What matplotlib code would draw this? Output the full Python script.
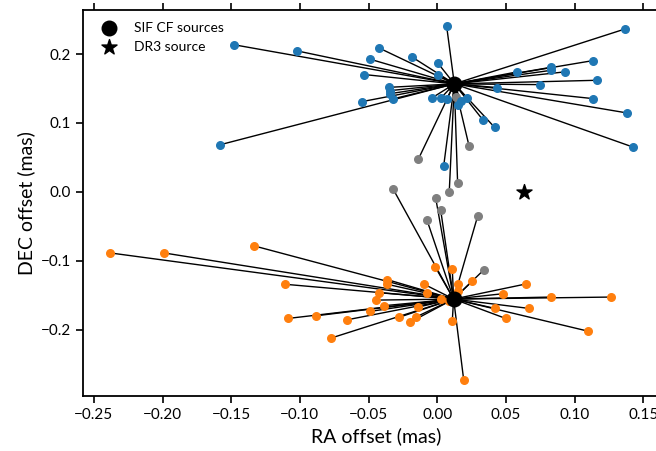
import matplotlib
matplotlib.use("Agg")
import matplotlib.pyplot as plt
import numpy as np

plt.rcParams['font.family'] = ['Lato', 'DejaVu Sans']

# centroids of the two SIF CF sources
cen_ra = [0.0124, 0.0119]
cen_dec = [0.1567, -0.1552]

# DR3 source
dr3_ra = 0.0633
dr3_dec = 0.0

# points linked to the upper centroid (blue)
blue_ra = [-0.148, -0.1023, -0.0427, -0.0182, -0.049, -0.0531, -0.0349, -0.0344,
           -0.0344, -0.0325, -0.055, -0.1582, 0.0068, 0.1364, 0.0005, 0.0005,
           0.1135, 0.0582, 0.083, 0.083, 0.0929, 0.116, 0.0747, 0.0437, 0.1135,
           0.1383, 0.1426, 0.0335, 0.0418, -0.0036, 0.0027, 0.0068, 0.0153,
           0.017, 0.0214, 0.0047]
blue_dec = [0.2134, 0.2046, 0.209, 0.1954, 0.1925, 0.1702, 0.1517, 0.1469,
            0.1425, 0.1348, 0.1309, 0.0684, 0.2404, 0.2361, 0.1866, 0.1702,
            0.1905, 0.1741, 0.1808, 0.1764, 0.1741, 0.1619, 0.1556, 0.1513, 0.1353,
            0.1145, 0.065, 0.1037, 0.0935, 0.1367, 0.1363, 0.1348, 0.1265,
            0.1324, 0.1367, 0.0383]

# points linked to the lower centroid (orange)
orange_ra = [-0.0015, 0.0109, 0.0148, 0.0148, 0.0253, 0.0643, 0.048, 0.0828,
             0.1262, 0.0418, 0.0665, 0.0498, 0.1097, 0.0109, 0.0192, 0.0025,
             0.0087, -0.0077, -0.0099, -0.014, -0.0157, -0.0201, -0.0281, -0.0386,
             -0.0448, -0.049, -0.0427, -0.0364, -0.0364, -0.2382, -0.1991, -0.1334,
             -0.1106, -0.1087, -0.0881, -0.0655, -0.0776]
orange_dec = [-0.1086, -0.111, -0.1338, -0.144, -0.1295, -0.1334, -0.1474, -0.1523,
              -0.1523, -0.1687, -0.1687, -0.1833, -0.2017, -0.1872, -0.272, -0.1546,
              -0.1585, -0.1459, -0.1334, -0.1668, -0.1814, -0.1891, -0.1818, -0.1648,
              -0.1567, -0.1731, -0.1459, -0.127, -0.1338, -0.0883, -0.0883, -0.0781,
              -0.1338, -0.1833, -0.1794, -0.1852, -0.2119]

# unassigned points (gray) and the centroid they are linked to
gray_ra = [0.0134, -0.0138, 0.0231, 0.0148, 0.0087,
           -0.0322, -0.0012, 0.0025, -0.0075, 0.0294, 0.0338]
gray_dec = [0.1372, 0.0476, 0.0669, 0.0127, 0.0,
            0.0044, -0.0083, -0.0266, -0.0407, -0.0349, -0.113]
gray_link = [0, 0, 0, 0, 0, 1, 1, 1, 1, 1, 1]

fig = plt.figure(figsize=(6.56, 4.51), dpi=100)
ax = fig.add_axes([83 / 656, 55 / 451, (670 - 83) / 656, (396 - 9.5) / 451])

for ra, dec in zip(blue_ra, blue_dec):
    ax.plot([ra, cen_ra[0]], [dec, cen_dec[0]], color='black', lw=1, zorder=1)
for ra, dec in zip(orange_ra, orange_dec):
    ax.plot([ra, cen_ra[1]], [dec, cen_dec[1]], color='black', lw=1, zorder=1)
for ra, dec, k in zip(gray_ra, gray_dec, gray_link):
    ax.plot([ra, cen_ra[k]], [dec, cen_dec[k]], color='black', lw=1, zorder=1)

ax.scatter(gray_ra, gray_dec, s=30, color='tab:gray', zorder=2)
ax.scatter(blue_ra, blue_dec, s=30, color='tab:blue', zorder=2)
ax.scatter(orange_ra, orange_dec, s=30, color='tab:orange', zorder=2)

ax.scatter(cen_ra, cen_dec, s=110, color='black', zorder=3, label='SIF CF sources')
ax.scatter([dr3_ra], [dr3_dec], s=130, marker='*', color='black', zorder=3,
           label='DR3 source')

ax.set_xlim(-0.2579, 0.1694)
ax.set_ylim(-0.2957, 0.2645)
ax.set_xticks([-0.25, -0.20, -0.15, -0.10, -0.05, 0.00, 0.05, 0.10, 0.15])
ax.set_yticks([-0.2, -0.1, 0.0, 0.1, 0.2])
ax.set_xticklabels(['\u22120.25', '\u22120.20', '\u22120.15', '\u22120.10', '\u22120.05',
                    '0.00', '0.05', '0.10', '0.15'])
ax.set_yticklabels(['\u22120.2', '\u22120.1', '0.0', '0.1', '0.2'])
ax.tick_params(direction='out', top=True, right=True, length=5, width=1.2,
               labelsize=11)
for sp in ax.spines.values():
    sp.set_linewidth(1.3)

ax.set_xlabel('RA offset (mas)', fontsize=14)
ax.set_ylabel('DEC offset (mas)', fontsize=14)

ax.legend(loc='upper left', frameon=False, fontsize=10, handletextpad=0.8,
          borderaxespad=0.5)

fig.savefig('out.png', dpi=100)
